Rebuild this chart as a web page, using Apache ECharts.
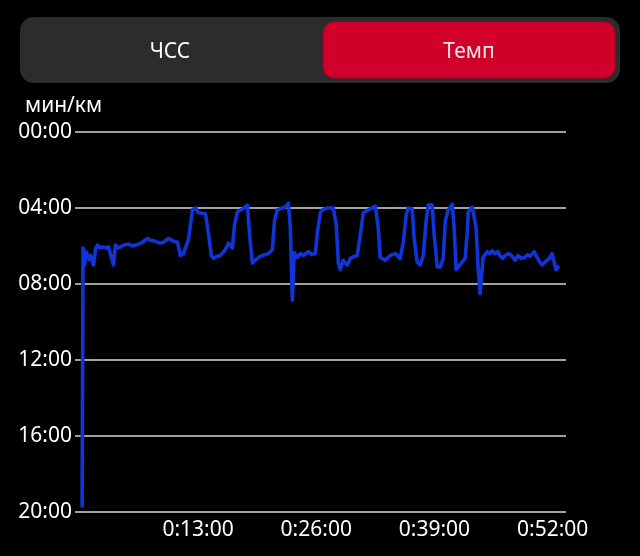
<!DOCTYPE html>
<html>
<head>
<meta charset="utf-8">
<script src="https://cdn.jsdelivr.net/npm/echarts@6/dist/echarts.min.js"></script>
<style>
html,body{margin:0;padding:0;background:#000;}
#c{width:640px;height:556px;}
</style>
</head>
<body>
<div id="c"></div>
<script>
// elapsed time, seconds
const times = [15,21,31,41,51,61,71,90,105,117,130,150,160,175,189,200,222,235,250,268,290,321,350,387,413,446,466,499,525,552,585,617,644,664,684,703,717,743,763,783,796,829,848,868,881,905,927,960,980,1007,1020,1040,1073,1106,1119,1138,1158,1180,1205,1244,1270,1284,1303,1336,1356,1376,1389,1402,1415,1425,1435,1445,1455,1475,1508,1530,1554,1567,1587,1600,1633,1672,1692,1706,1719,1728,1738,1750,1765,1785,1810,1831,1844,1857,1870,1903,1950,1969,1982,2015,2048,2081,2114,2134,2154,2167,2193,2206,2226,2246,2266,2285,2299,2325,2338,2358,2378,2398,2411,2431,2457,2470,2483,2497,2523,2543,2556,2563,2589,2602,2615,2628,2641,2655,2661,2688,2705,2721,2740,2760,2774,2790,2806,2830,2853,2872,2892,2910,2938,2955,2971,2998,3017,3035,3050,3083,3100,3116,3123,3142,3156];
// pace, seconds per km
const paces = [1182,366,420,378,384,402,390,420,366,357,366,363,360,366,363,360,420,357,366,363,357,354,360,354,348,336,342,345,351,348,336,345,348,390,384,357,339,246,240,255,255,258,318,390,399,393,390,372,351,366,294,252,243,231,318,414,405,396,390,384,372,282,246,240,237,225,303,531,381,375,396,393,384,390,378,387,384,318,255,246,240,240,294,414,435,420,405,414,420,399,393,390,390,303,255,246,234,303,396,405,390,384,399,348,261,240,243,336,411,420,390,282,231,231,324,426,426,399,282,246,228,303,435,426,411,399,318,252,237,234,303,429,510,429,396,378,384,375,384,378,393,399,390,384,393,405,390,399,396,387,393,378,396,411,420,405,399,384,390,435,426];
const xTicks = [780,1560,2340,3120];
const tabs = ['ЧСС','Темп'];
const yName = 'мин/км';

const pad = n => String(n).padStart(2,'0');
const fmtPace = v => pad(Math.floor(v/60)) + ':' + pad(Math.round(v%60));
const fmtTime = v => Math.floor(v/3600) + ':' + pad(Math.floor((v%3600)/60)) + ':' + pad(v%60);

const chart = echarts.init(document.getElementById('c'));
const FONT = 'Noto Sans';
chart.setOption({
  backgroundColor: '#000',
  animation: false,
  grid: {left: 75, right: 74, top: 132, bottom: 44},
  xAxis: {
    type: 'value', min: -32, max: 3208,
    axisLine: {show: false}, axisTick: {show: false}, splitLine: {show: false},
    axisLabel: {customValues: xTicks, formatter: fmtTime, color: '#fff', fontSize: 21, fontFamily: FONT, margin: 8}
  },
  yAxis: {
    type: 'value', inverse: true, min: 0, max: 1200, interval: 240,
    axisLine: {show: false}, axisTick: {show: false},
    splitLine: {lineStyle: {color: '#a0a0a0', width: 2}},
    axisLabel: {formatter: fmtPace, color: '#fff', fontSize: 21, fontFamily: FONT, margin: 3}
  },
  series: [{
    type: 'line',
    data: times.map((t, i) => [t, paces[i]]),
    showSymbol: false,
    lineStyle: {color: '#1034d8', width: 3.6, join: 'round', cap: 'round'},
    itemStyle: {color: '#1034d8'}
  }],
  graphic: [
    {type: 'rect', shape: {x: 20, y: 17, width: 600, height: 66, r: 14}, style: {fill: '#2c2c2e'}},
    {type: 'rect', shape: {x: 323, y: 22, width: 292, height: 56, r: 11}, style: {fill: '#d0002a', stroke: '#a8001f', lineWidth: 1}},
    {type: 'text', x: 170, y: 52, style: {text: tabs[0], fill: '#fff', font: '21px "Noto Sans"', align: 'center', verticalAlign: 'middle'}},
    {type: 'text', x: 469, y: 52, style: {text: tabs[1], fill: '#f4e6ea', font: '21px "Noto Sans"', align: 'center', verticalAlign: 'middle'}},
    {type: 'text', x: 25, y: 106, style: {text: yName, fill: '#fff', font: '21px "Noto Sans"', align: 'left', verticalAlign: 'middle'}}
  ]
});
</script>
</body>
</html>
